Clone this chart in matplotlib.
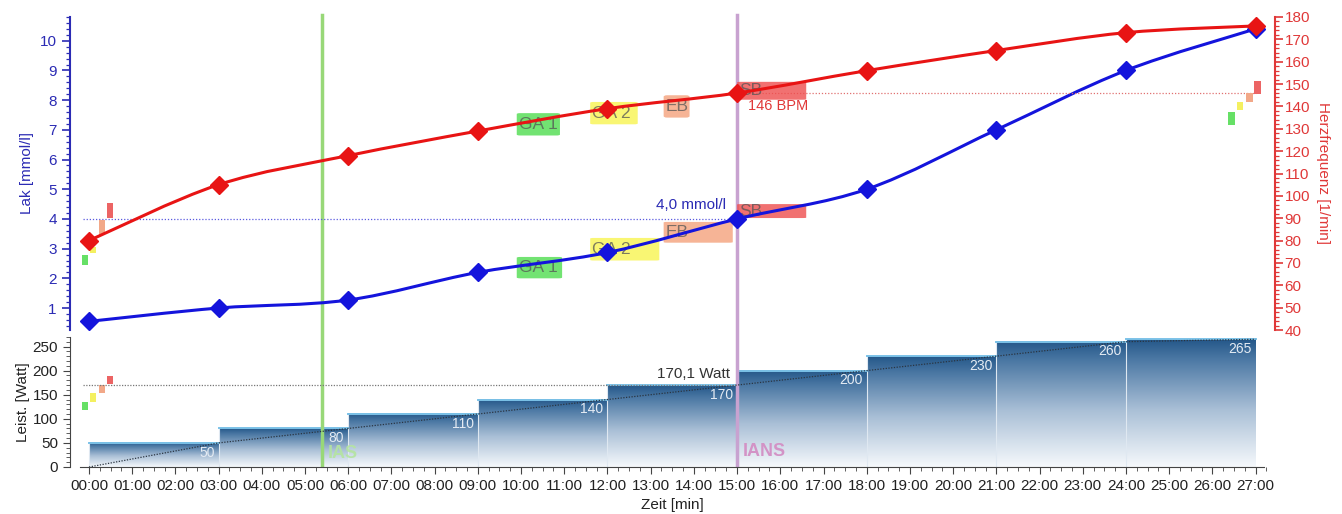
import numpy as np
import matplotlib
matplotlib.use('Agg')
import matplotlib.pyplot as plt
from matplotlib.path import Path
from matplotlib.patches import PathPatch, Rectangle, FancyBboxPatch
from matplotlib.colors import LinearSegmentedColormap
from matplotlib.ticker import MultipleLocator, FixedLocator, FuncFormatter

plt.rcParams['font.family'] = ['Liberation Sans', 'DejaVu Sans']

# ---------------- data ----------------
time_min = [0, 3, 6, 9, 12, 15, 18, 21, 24, 27]
lactate = [0.55, 1.0, 1.27, 2.2, 2.87, 4.0, 5.0, 7.0, 9.0, 10.4]
heart_rate = [80, 105, 118, 129, 139, 146, 156, 165, 173, 176]

step_start = [0, 3, 6, 9, 12, 15, 18, 21, 24]
step_power = [50, 80, 110, 140, 170, 200, 230, 260, 265]
step_width = 3

ramp_time = [0, 3, 6, 9, 12, 15, 18, 21, 24, 27]
ramp_power = [0, 50, 80, 110, 140, 170, 200, 230, 260, 265]

ias_time = 5.4
ians_time = 15.0
ians_lactate = 4.0
ians_hr = 146
ians_power = 170.1

zone_names = ['GA 1', 'GA 2', 'EB', 'SB']
zone_colors = ['#4fdc4f', '#f8f450', '#f4a27c', '#ee4e4e']
# zone label boxes on the heart-rate curve
hr_zone_x0 = [9.9, 11.6, 13.3, 15.0]
hr_zone_x1 = [10.9, 12.7, 13.9, 16.6]
hr_zone_lo = [127, 132, 135, 143]
hr_zone_hi = [137, 142, 145, 151]
# zone label boxes on the lactate curve
lac_zone_x0 = [9.9, 11.6, 13.3, 15.0]
lac_zone_x1 = [10.95, 13.2, 14.9, 16.6]
lac_zone_lo = [2.0, 2.6, 3.2, 4.03]
lac_zone_hi = [2.72, 3.36, 3.9, 4.5]

# small zone markers
mark_colors = ['#66e066', '#f4f060', '#f2a888', '#ec6464']
lac_mark_x0 = [-0.17, 0.02, 0.23, 0.41]
lac_mark_lo = [2.45, 2.85, 3.46, 4.03]
lac_mark_hi = [2.78, 3.05, 3.96, 4.54]
hr_mark_x0 = [26.37, 26.57, 26.78, 26.97]
hr_mark_lo = [131.7, 138.4, 142.0, 145.6]
hr_mark_hi = [137.5, 142.0, 146.0, 151.4]
pw_mark_x0 = [-0.17, 0.02, 0.23, 0.41]
pw_mark_lo = [118, 135.5, 154, 172]
pw_mark_hi = [135.5, 153.5, 170, 189]
mark_width = 0.15

minute_ticks = list(range(0, 28))

BLUE = '#1414dc'
RED = '#e81414'
AXBLUE = '#2b2bb4'
AXRED = '#e03838'
GRAY = '#333333'


def smooth_path(x, y):
    pts = np.column_stack([np.asarray(x, float), np.asarray(y, float)])
    n = len(pts)
    verts = [pts[0]]
    codes = [Path.MOVETO]
    for i in range(n - 1):
        p0 = pts[i - 1] if i > 0 else pts[i]
        p1 = pts[i]
        p2 = pts[i + 1]
        p3 = pts[i + 2] if i + 2 < n else pts[i + 1]
        verts += [p1 + (p2 - p0) / 6.0, p2 - (p3 - p1) / 6.0, p2]
        codes += [Path.CURVE4] * 3
    return Path(verts, codes)


W, H = 1342, 514
fig = plt.figure(figsize=(W / 100, H / 100), dpi=100)
ax = fig.add_axes([70 / W, 1 - 330 / H, 1205 / W, 313 / H])
ax_hr = ax.twinx()
PTOP = 270
axp = fig.add_axes([70 / W, 1 - 467 / H, 1205 / W, (PTOP * 0.482) / H])

XL = (-0.44, 27.45)

# ---------------- top panel ----------------
ax.set_xlim(*XL)
ax.set_ylim(0.26, 10.8)
ax_hr.set_ylim(40, 180)

for s in ['top', 'bottom']:
    ax.spines[s].set_visible(False)
    ax_hr.spines[s].set_visible(False)
ax.spines['right'].set_visible(False)
ax.spines['left'].set_color(AXBLUE)
ax.spines['left'].set_linewidth(1.5)
ax_hr.spines['left'].set_visible(False)
ax_hr.spines['right'].set_color(AXRED)
ax_hr.spines['right'].set_linewidth(1.5)
ax.tick_params(axis='x', bottom=False, labelbottom=False)
ax.yaxis.set_major_locator(FixedLocator(range(1, 11)))
ax.yaxis.set_minor_locator(MultipleLocator(0.2))
ax.tick_params(axis='y', which='both', colors=AXBLUE, labelcolor=AXBLUE, labelsize=11, direction='out')
ax.tick_params(axis='y', which='major', length=6, width=1.2)
ax.tick_params(axis='y', which='minor', length=3, width=0.9)
ax.set_ylabel('Lak [mmol/l]', color=AXBLUE, fontsize=11, labelpad=4)

ax_hr.yaxis.set_major_locator(MultipleLocator(10))
ax_hr.yaxis.set_minor_locator(MultipleLocator(2))
ax_hr.tick_params(axis='y', which='both', colors=AXRED, labelcolor=AXRED, labelsize=11, direction='out', pad=1)
ax_hr.tick_params(axis='y', which='major', length=6, width=1.2)
ax_hr.tick_params(axis='y', which='minor', length=3, width=0.9)
ax_hr.set_ylabel('Herzfrequenz [1/min]', color=AXRED, fontsize=11, rotation=270, labelpad=14)

# threshold lines
ax.axvline(ias_time, color='#98d878', lw=2.5, ymin=-0.034, ymax=1.006, clip_on=False, zorder=1)
ax.axvline(ians_time, color='#c8a2d0', lw=2.5, ymin=-0.034, ymax=1.006, clip_on=False, zorder=1)
ax.plot([-0.14, ians_time], [ians_lactate, ians_lactate], color='#5a5ae0', lw=0.9, ls=(0, (1, 1.5)), zorder=1)
ax_hr.plot([ians_time, time_min[-1]], [ians_hr, ians_hr], color='#e07070', lw=0.9, ls=(0, (1, 1.5)), zorder=1)

# zone boxes
for i, name in enumerate(zone_names):
    for a, x0, x1, lo, hi in [(ax, lac_zone_x0[i], lac_zone_x1[i], lac_zone_lo[i], lac_zone_hi[i]),
                              (ax_hr, hr_zone_x0[i], hr_zone_x1[i], hr_zone_lo[i], hr_zone_hi[i])]:
        a.add_patch(FancyBboxPatch((x0, lo), x1 - x0, hi - lo,
                                   boxstyle='round,pad=0,rounding_size=0.08',
                                   mutation_aspect=(hi - lo) / (x1 - x0) * 0.5,
                                   facecolor=zone_colors[i], edgecolor='none', alpha=0.8, zorder=2))
        a.text(x0 + 0.05, (lo + hi) / 2, name, fontsize=12.5, color='#555555', alpha=0.75,
               ha='left', va='center', zorder=2.5)

# small zone markers
for i in range(4):
    ax.add_patch(Rectangle((lac_mark_x0[i], lac_mark_lo[i]), mark_width, lac_mark_hi[i] - lac_mark_lo[i],
                           facecolor=mark_colors[i], edgecolor='none', zorder=2))
    ax_hr.add_patch(Rectangle((hr_mark_x0[i], hr_mark_lo[i]), mark_width, hr_mark_hi[i] - hr_mark_lo[i],
                              facecolor=mark_colors[i], edgecolor='none', zorder=2))

# curves
ax.add_patch(PathPatch(smooth_path(time_min, lactate), fill=False, edgecolor=BLUE, lw=2.2, zorder=4))
ax.plot(time_min, lactate, ls='none', marker='D', ms=9.5, color=BLUE, zorder=5)
ax_hr.add_patch(PathPatch(smooth_path(time_min, heart_rate), fill=False, edgecolor=RED, lw=2.2, zorder=4))
ax_hr.plot(time_min, heart_rate, ls='none', marker='D', ms=9.5, color=RED, zorder=5)

ax.annotate(f'{ians_lactate:.1f}'.replace('.', ',') + ' mmol/l', (ians_time, ians_lactate),
            xytext=(-8, 5), textcoords='offset points', ha='right', va='bottom',
            fontsize=11, color=AXBLUE, zorder=6)
ax_hr.annotate(f'{ians_hr} BPM', (ians_time, ians_hr), xytext=(8, -9), textcoords='offset points',
               ha='left', va='center', fontsize=10.5, color=AXRED, zorder=6)

# ---------------- power panel ----------------
bar_cmap = LinearSegmentedColormap.from_list('bar', [(0.0, '#f6f9fc'), (0.45, '#a9bfd6'),
                                                     (0.85, '#4a77a3'), (1.0, '#245789')])
grad = np.linspace(0, 1, 256).reshape(-1, 1)
for x0, h in zip(step_start, step_power):
    axp.imshow(grad, extent=[x0, x0 + step_width, 0, h], origin='lower', cmap=bar_cmap,
               aspect='auto', interpolation='bilinear', zorder=1)
    axp.plot([x0, x0], [0, h], color='#dfe8f1', lw=0.8, zorder=1.5)
    axp.plot([x0, x0 + step_width], [h, h], color='#7cc2e8', lw=1.4, zorder=1.6)
    axp.annotate(str(h), (x0 + step_width, h), xytext=(-3, -7), textcoords='offset points',
                 ha='right', va='center', fontsize=10, color='#e4ebf3', zorder=4,
                 annotation_clip=False)
axp.set_xlim(*XL)
axp.set_ylim(0, PTOP)

axp.plot(ramp_time, ramp_power, color='#2a3440', lw=0.9, ls=(0, (1, 1.2)), zorder=3)
axp.plot([-0.14, ians_time], [ians_power, ians_power], color='#777777', lw=0.9, ls=(0, (1, 1.2)), zorder=3)
axp.annotate(f'{ians_power:.1f}'.replace('.', ',') + ' Watt', (ians_time, ians_power),
             xytext=(-5, 3), textcoords='offset points', ha='right', va='bottom',
             fontsize=11, color=GRAY, zorder=6)

axp.axvline(ias_time, color='#98d878', lw=2.5, zorder=2)
axp.axvline(ians_time, color='#c8a2d0', lw=2.5, zorder=2)
axp.text(ians_time + 0.12, 33, 'IANS', fontsize=13, fontweight='bold', color='#d393c6',
         ha='left', va='center', zorder=6)
axp.text(ias_time + 0.12, 29, 'IAS', fontsize=13, fontweight='bold', color='#b4e4a0', alpha=0.9,
         ha='left', va='center', zorder=6)

for i in range(4):
    axp.add_patch(Rectangle((pw_mark_x0[i], pw_mark_lo[i]), mark_width, pw_mark_hi[i] - pw_mark_lo[i],
                            facecolor=mark_colors[i], edgecolor='none', zorder=2))

for s in ['top', 'right']:
    axp.spines[s].set_visible(False)
axp.spines['left'].set_color('#444444')
axp.spines['bottom'].set_color('#444444')
axp.spines['bottom'].set_bounds(-0.2, 27.2)
axp.xaxis.set_major_locator(FixedLocator(minute_ticks))
axp.xaxis.set_major_formatter(FuncFormatter(lambda v, p: f'{int(round(v)):02d}:00'))
axp.xaxis.set_minor_locator(FixedLocator(np.arange(0, 27.26, 0.25)))
axp.yaxis.set_major_locator(MultipleLocator(50))
axp.yaxis.set_minor_locator(MultipleLocator(10))
axp.tick_params(axis='both', which='both', colors='#444444', labelcolor='#222222', labelsize=11, direction='out')
axp.tick_params(axis='both', which='major', length=5)
axp.tick_params(axis='both', which='minor', length=3)
axp.set_ylabel('Leist. [Watt]', fontsize=11, color='#222222', labelpad=2)
axp.set_xlabel('Zeit [min]', fontsize=11, color='#222222', labelpad=4)

fig.savefig('out.png', dpi=100)
